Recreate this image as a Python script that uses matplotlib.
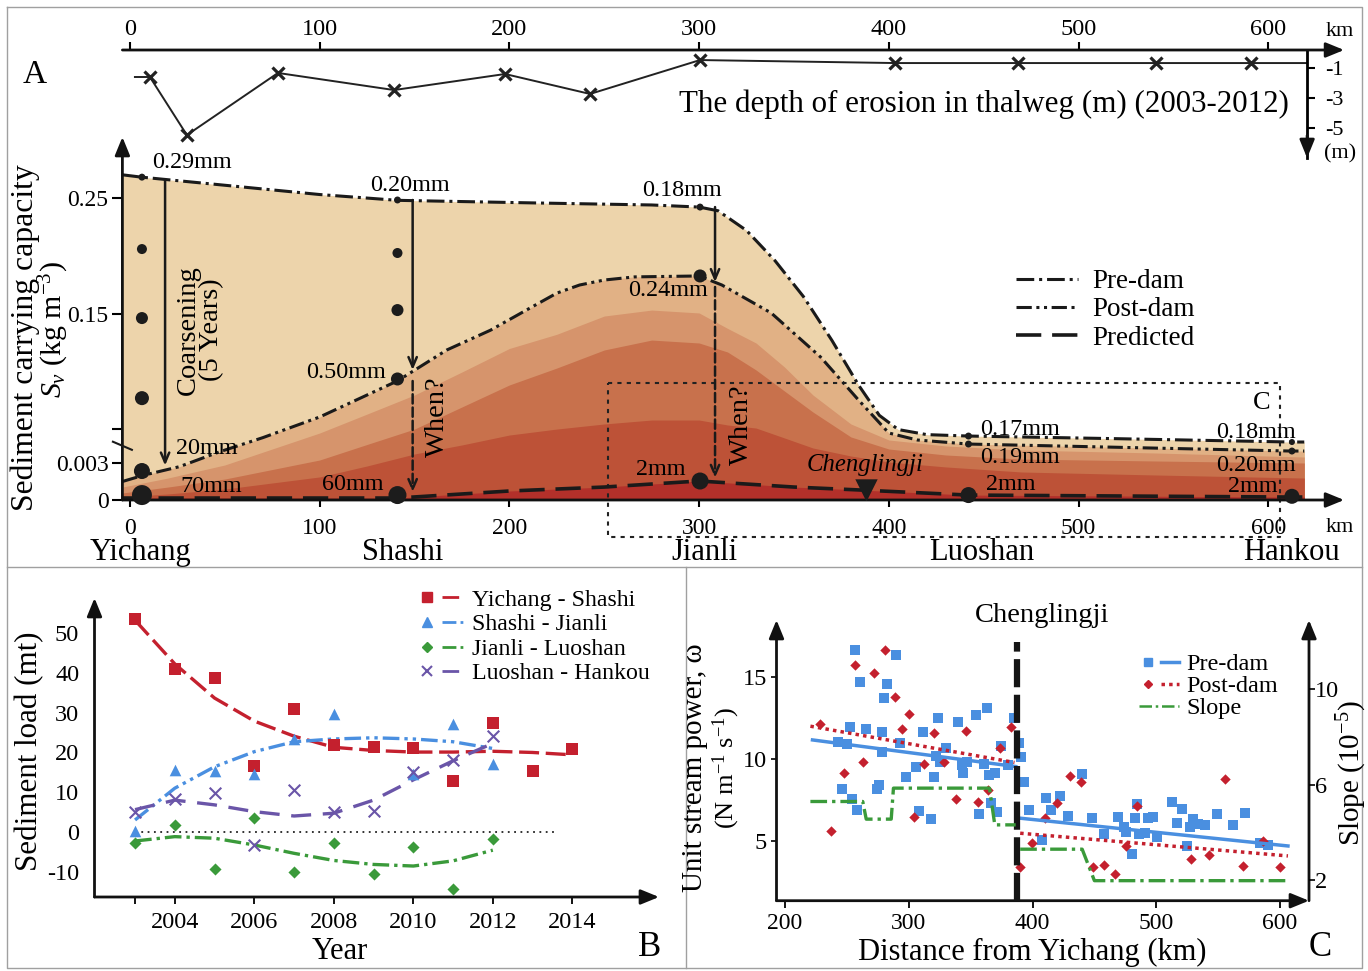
import numpy as np
import matplotlib
matplotlib.use('Agg')
import matplotlib.pyplot as plt
import matplotlib.transforms as mtransforms
from matplotlib.lines import Line2D
from matplotlib.legend_handler import HandlerTuple

plt.rcParams['font.family'] = ['Liberation Serif', 'DejaVu Serif']
plt.rcParams['mathtext.fontset'] = 'custom'
plt.rcParams['mathtext.rm'] = 'Liberation Serif'
plt.rcParams['mathtext.it'] = 'Liberation Serif:italic'
plt.rcParams['mathtext.bf'] = 'Liberation Serif:bold'
plt.rcParams['axes.unicode_minus'] = False

W, H = 1368, 971

# ---------------- data: panel A, thalweg erosion depth (m) ----------------
ero_km = [2.6, 10.5, 30.0, 78.0, 139.2, 197.7, 242.5, 300.5, 403.3, 468.1, 540.9, 590.9, 620.5]
ero_depth = [-1.6, -1.6, -5.47, -1.33, -2.47, -1.40, -2.73, -0.47, -0.67, -0.67, -0.67, -0.67, -0.67]
ero_axis_km = 620.5

# ---------------- data: panel A, sediment carrying capacity (kg m-3) ----------------
pre_km = [-4, 6, 50, 100, 141, 215, 275, 300, 310, 325, 340, 355, 370, 384, 395, 405, 420, 442, 520, 612, 619]
pre_sv = [0.270, 0.268, 0.261, 0.253, 0.248, 0.2457, 0.244, 0.2422, 0.239, 0.222, 0.196, 0.165, 0.124,
          0.080, 0.050, 0.036, 0.031, 0.0296, 0.027, 0.0237, 0.0237]

post_km = [-4, 7, 26, 47, 70, 100, 141, 167, 190, 214, 225, 237, 250, 266, 300, 312, 338, 364, 384, 400, 415,
           442, 612, 619]
post_sv = [0.0015, 0.0020, 0.0027, 0.0139, 0.028, 0.0484, 0.084, 0.1145, 0.134, 0.158, 0.168, 0.175, 0.1793,
           0.182, 0.1828, 0.175, 0.1509, 0.1076, 0.0652, 0.0326, 0.0257, 0.0217, 0.0148, 0.0148]

band_km = [-4, 20, 50, 100, 125, 150, 175, 200, 225, 250, 275, 300, 315, 330, 345, 360, 380, 400, 430, 470,
           540, 619]
band3_sv = [0.00105, 0.00178, 0.00284, 0.0326, 0.0513, 0.0701, 0.0928, 0.116, 0.130, 0.148, 0.1534, 0.1509,
            0.1358, 0.1214, 0.0977, 0.0701, 0.0415, 0.0257, 0.0198, 0.0158, 0.0129, 0.0089]
band4_sv = [0.00057, 0.00105, 0.0017, 0.00596, 0.0213, 0.0365, 0.0583, 0.080, 0.0967, 0.1145, 0.1243, 0.1214,
            0.1125, 0.0948, 0.074, 0.0533, 0.0287, 0.0168, 0.0109, 0.0069, 0.0050, 0.0030]
band5_sv = [0.00024, 0.00049, 0.00089, 0.00187, 0.00276, 0.0119, 0.0208, 0.0306, 0.0365, 0.0415, 0.0454,
            0.0454, 0.0405, 0.0375, 0.0277, 0.0178, 0.0099, 0.0040, 0.00268, 0.00227, 0.00203, 0.00178]

pred_km = [-4, 141, 200, 250, 300, 350, 385, 442, 612, 619]
pred_sv = [0.00016, 0.00016, 0.00073, 0.00105, 0.00154, 0.00105, 0.00081, 0.0004, 0.00024, 0.00024]

# grain-size sample points at the stations
dot_km = [6.3] * 6 + [141] * 5 + [300.5] * 3 + [442] * 3 + [612.5] * 3
dot_sv = [0.268, 0.206, 0.146, 0.067, 0.00235, 0.0004,
          0.2483, 0.2026, 0.1534, 0.0859, 0.0004,
          0.2422, 0.1828, 0.00154,
          0.0296, 0.0217, 0.0004,
          0.0237, 0.0148, 0.0003]
dot_size = [25, 52, 75, 102, 133, 207,
            25, 52, 75, 88, 168,
            25, 88, 150,
            25, 25, 133,
            19, 25, 117]
chenglingji_km, chenglingji_sv = 388, 0.00081

stations = ['Yichang', 'Shashi', 'Jianli', 'Luoshan', 'Hankou']
station_km = [5.8, 143.9, 302.6, 449, 612.5]

# ---------------- data: panel B, sediment load (mt) ----------------
years = list(range(2003, 2015))
ys_load = [53.5, 41.0, 38.7, 16.7, 30.9, 21.9, 21.3, 21.0, 12.9, 27.3, 15.3, 20.8]
ys_fit = [53.3, 42.3, 33.7, 27.9, 24.1, 21.3, 20.5, 20.1, 20.1, 20.3, 20.0, 19.4]
sj_years = [2003, 2004, 2005, 2006, 2007, 2008, 2010, 2011, 2012]
sj_load = [0.3, 15.6, 15.3, 14.6, 23.3, 29.6, 14.6, 27.2, 17.1]
fit_years = list(range(2003, 2013))
sj_fit = [3.0, 11.0, 16.4, 20.2, 22.7, 23.4, 23.7, 23.4, 22.7, 21.0]
jl_load = [-2.7, 1.7, -9.4, 3.6, -10.0, -2.9, -10.6, -3.7, -14.5, -1.9]
jl_fit = [-2.3, -1.2, -1.6, -3.3, -5.4, -7.2, -8.2, -8.6, -7.3, -4.6]
lh_load = [5.1, 8.2, 9.9, -3.3, 10.5, 4.9, 5.3, 15.2, 18.1, 24.2]
lh_fit = [5.6, 8.0, 6.8, 5.1, 4.0, 4.7, 8.0, 13.1, 17.9, 22.3]

# ---------------- data: panel C, unit stream power and slope ----------------
pre_x = [256.5, 260.4, 290.0, 282.3, 279.8, 252.6, 265.3, 278.0, 242.4, 249.8, 278.0, 292.9, 297.4, 305.5,
         311.2, 245.9, 254.0, 258.2, 274.5, 276.3, 308.0, 318.2, 320.0, 323.5, 321.8, 325.0, 330.3, 339.5,
         343.0, 344.1, 346.9, 354.3, 363.5, 361.0, 365.2, 369.4, 356.4, 366.3, 371.6, 374.8, 380.1, 385.4,
         388.9, 390.7, 393.5, 397.0, 407.6, 410.5, 414.7, 421.8, 428.8, 440.1, 448.2, 457.8, 468.7, 473.7,
         475.8, 480.0, 482.5, 484.3, 486.4, 490.6, 493.4, 497.7, 500.5, 512.9, 517.1, 520.6, 525.2, 527.0,
         529.4, 534.0, 539.3, 548.9, 561.6, 571.8, 583.5, 590.5]
pre_w = [16.67, 14.71, 16.36, 14.57, 13.71, 11.96, 11.81, 11.67, 11.06, 10.89, 10.45, 11.00, 8.87, 9.48,
         11.67, 8.18, 7.53, 6.87, 8.14, 8.38, 6.83, 6.31, 8.87, 12.48, 10.18, 9.83, 10.65, 12.26,
         9.63, 9.12, 9.78, 12.69, 13.10, 9.67, 9.02, 9.16, 6.63, 7.32, 6.73, 10.79, 9.63, 12.48,
         11.00, 10.14, 8.57, 6.87, 5.03, 7.59, 6.87, 7.73, 6.51, 9.08, 6.37, 5.39, 6.47, 5.86,
         5.55, 4.16, 6.37, 7.25, 5.41, 5.45, 6.37, 6.47, 5.24, 7.35, 6.06, 6.96, 4.67, 5.86,
         6.31, 6.02, 5.94, 6.63, 5.96, 6.67, 4.84, 4.74]
post_x = [228.3, 236.8, 247.4, 256.5, 262.8, 272.0, 280.9, 289.0, 294.7, 300.0, 304.2, 312.0, 320.1, 328.6,
          337.8, 346.5, 355.7, 364.2, 373.4, 382.2, 390.0, 399.5, 410.1, 420.0, 430.6, 439.4, 449.0, 457.8,
          466.6, 475.4, 484.3, 528.3, 542.8, 555.9, 570.0, 585.9, 600.0]
post_w = [12.14, 5.59, 9.16, 15.75, 9.78, 15.28, 16.67, 13.81, 11.81, 12.75, 6.42, 9.67, 11.57, 9.79,
          7.53, 11.73, 7.39, 8.10, 10.65, 11.98, 3.40, 4.88, 6.37, 7.29, 8.98, 8.57, 3.40, 3.51,
          2.96, 4.67, 7.12, 3.85, 4.12, 8.75, 3.45, 5.00, 3.40]
pre_trend_up = ([222.2, 386.4], [11.16, 9.53])
pre_trend_down = ([390.0, 606.4], [6.37, 4.67])
post_trend_up = ([220.5, 385.4], [12.0, 9.78])
post_trend_down = ([390.0, 606.4], [5.45, 4.06])
slope_up_x = [220.5, 262.8, 265.6, 285.8, 287.6, 365.2, 369.5, 386.4]
slope_up = [5.29, 5.29, 4.55, 4.55, 5.85, 5.85, 4.31, 4.31]
slope_down_x = [390.0, 440.1, 450.0, 606.4]
slope_down = [3.29, 3.29, 1.97, 1.97]
cl_line_km, cl_line_top = 387.5, 17.18

# ---------------- colours ----------------
band_colors = ['#EDD4AB', '#E1B185', '#D6946C', '#C8714C', '#BD5237', '#B3302A']
red, blue, green, purple = '#C4202E', '#4A8FE0', '#3A9A3A', '#6A55A8'


def box(x0, y0, x1, y1):
    return [x0 / W, 1 - y1 / H, (x1 - x0) / W, (y1 - y0) / H]


def at(px, py):
    return px / W, 1 - py / H


def arrow(ax, xy, xytext, coords='axes fraction', lw=2.0):
    ax.annotate('', xy=xy, xytext=xytext, xycoords=coords, textcoords=coords, annotation_clip=False,
                arrowprops=dict(arrowstyle='-|>,head_length=1.1,head_width=0.45', color='#111111', lw=lw,
                                shrinkA=0, shrinkB=0))


fig = plt.figure(figsize=(W / 100, H / 100), dpi=100)

# panel frames
for xs, ys in [([7, 1362, 1362, 7, 7], [7, 7, 968, 968, 7]), ([7, 1362], [567, 567]), ([686, 686], [567, 968])]:
    fig.add_artist(Line2D([x / W for x in xs], [1 - y / H for y in ys], color='#a0a0a0', lw=1.0,
                          transform=fig.transFigure))

# ================= panel A: erosion strip =================
axE = fig.add_axes(box(122.4, 50, 1344.1, 158))
axE.set_xlim(-4, 640)
axE.set_ylim(-7.0, 0.2)
axE.patch.set_alpha(0)
axE.plot(ero_km, ero_depth, color='#222222', lw=1.4, marker='x', ms=9, mew=2.3,
         markevery=list(range(1, len(ero_km) - 1)))
for s in ['left', 'bottom', 'top']:
    axE.spines[s].set_visible(False)
axE.spines['right'].set_position(('data', ero_axis_km))
axE.spines['right'].set_linewidth(2)
axE.xaxis.set_ticks_position('top')
axE.set_xticks(range(0, 700, 100))
axE.tick_params(axis='x', direction='out', length=6, width=1.5, labelsize=17.5, pad=1)
axE.yaxis.set_ticks_position('right')
axE.set_yticks([-1, -3, -5])
axE.set_yticklabels(['-1', '-3', '-5'])
axE.tick_params(axis='y', direction='out', length=6, width=1.5, labelsize=16, pad=7)
arrow(axE, (1, 1), (0, 1))
arrow(axE, (ero_axis_km, -7.0), (ero_axis_km, -5.5), coords='data')
fig.text(*at(1340, 31), 'km', fontsize=16, ha='center', va='center')
fig.text(*at(1340, 154), '(m)', fontsize=16, ha='center', va='center')
fig.text(*at(984, 104), 'The depth of erosion in thalweg (m) (2003-2012)', fontsize=22.3, ha='center',
         va='center')
fig.text(*at(35, 75), 'A', fontsize=24, ha='center', va='center')

# ================= panel A: sediment carrying capacity =================
sv_anchor = [-0.01, 0, 0.003, 0.15, 0.25, 0.5]
d_anchor = [-123.3, 0, 37, 186, 302, 592]


def fwd(v):
    return np.interp(v, sv_anchor, d_anchor)


def inv(v):
    return np.interp(v, d_anchor, sv_anchor)


axA = fig.add_axes(box(122.4, 137, 1344.1, 500))
axA.set_yscale('function', functions=(fwd, inv))
axA.set_xlim(-4, 640)
axA.set_ylim(0, 0.3026)
axA.patch.set_alpha(0)
for s in axA.spines.values():
    s.set_visible(False)

fills = [(pre_km, pre_sv), (post_km, post_sv), (band_km, band3_sv), (band_km, band4_sv),
         (band_km, band5_sv), (pred_km, pred_sv)]
for (xk, yv), c in zip(fills, band_colors):
    axA.fill_between(xk, 0, yv, color=c, lw=0, zorder=1)

# dotted box marking panel C
blend = mtransforms.blended_transform_factory(axA.transData, axA.transAxes)
axA.plot([252, 606.2, 606.2, 252, 252], [0.3223, 0.3223, -0.1019, -0.1019, 0.3223], transform=blend,
         color='#222222', lw=1.5, ls=(0, (2, 2.5)), clip_on=False, zorder=2)

ls_pre = (0, (5.8, 1.6, 1.0, 1.6))
ls_post = (0, (5.0, 1.5, 1.0, 1.5, 1.0, 1.5))
ls_pred = (0, (7, 3))
axA.plot(pre_km, pre_sv, color='#1a1a1a', lw=2.2, ls=ls_pre, zorder=3)
axA.plot(post_km, post_sv, color='#1a1a1a', lw=2.2, ls=ls_post, zorder=3)
axA.plot(pred_km, pred_sv, color='#1a1a1a', lw=2.6, ls=ls_pred, zorder=3)
axA.scatter(dot_km, dot_sv, s=dot_size, color='#1c1c1c', zorder=4, clip_on=False, lw=0)
axA.scatter([chenglingji_km], [chenglingji_sv], marker='v', s=260, color='#1c1c1c', zorder=4, lw=0)

# coarsening arrows
for x0, y0, y1, st in [(18.5, 0.2655, 0.0028, '-'), (149, 0.2483, 0.0948, '-'), (149, 0.0839, 0.00065, '--'),
                       (308.4, 0.2422, 0.1776, '-'), (308.4, 0.1733, 0.0018, '--')]:
    axA.annotate('', xy=(x0, y1), xytext=(x0, y0), zorder=4,
                 arrowprops=dict(arrowstyle='->,head_length=0.7,head_width=0.3', color='#1a1a1a', lw=1.8,
                                 ls=st, shrinkA=0, shrinkB=0))

arrow(axA, (1, 0), (0, 0))
arrow(axA, (0, 1), (0, 0))
axA.set_xticks(range(0, 700, 100))
axA.tick_params(axis='x', direction='out', length=5, width=1.5, labelsize=17, pad=8)
axA.set_yticks([0, 0.003, 0.15, 0.25])
axA.set_yticklabels(['0', '0.003', '0.15', '0.25'])
axA.set_yticks([0.0365], minor=True)
axA.yaxis.set_minor_formatter(matplotlib.ticker.NullFormatter())
axA.tick_params(axis='y', which='both', direction='out', length=7, width=1.5, labelsize=17, pad=3)
axA.plot([-9, 1], [0.024, 0.016], color='#1a1a1a', lw=1.5, clip_on=False, zorder=5)

for name, xk in zip(stations, station_km):
    axA.text(xk, -0.144, name, transform=blend, fontsize=22, ha='center', va='center')
fig.text(*at(1340, 528), 'km', fontsize=16, ha='center', va='center')

fig.text(*at(25, 338), 'Sediment carrying capacity', fontsize=22.8, rotation=90, ha='center', va='center')
fig.text(*at(54, 330), r'$S_v$ (kg m$^{-3}$)', fontsize=21.5, rotation=90, ha='center', va='center')

grain_labels = [('0.29mm', 152, 163, 'left'), ('0.20mm', 370, 185, 'left'), ('0.18mm', 642, 190, 'left'),
                ('0.24mm', 628, 290, 'left'), ('0.50mm', 386, 372, 'right'), ('20mm', 176, 448, 'left'),
                ('70mm', 180, 487, 'left'), ('60mm', 322, 484, 'left'), ('2mm', 636, 469, 'left'),
                ('0.17mm', 980, 429, 'left'), ('0.19mm', 980, 457, 'left'), ('2mm', 986, 484, 'left'),
                ('0.18mm', 1216, 433, 'left'), ('0.20mm', 1216, 465, 'left'), ('2mm', 1228, 487, 'left')]
for txt, px, py, ha in grain_labels:
    fig.text(*at(px, py), txt, fontsize=17.4, ha=ha, va='center', zorder=6)
fig.text(*at(200, 330), 'Coarsening\n(5 Years)', fontsize=20.5, rotation=90, ha='center', va='center',
         multialignment='center', linespacing=0.95)
fig.text(*at(437, 417), 'When?', fontsize=20.5, rotation=90, ha='center', va='center')
fig.text(*at(741, 425), 'When?', fontsize=20.5, rotation=90, ha='center', va='center')
fig.text(*at(865, 465), 'Chenglingji', fontsize=17.8, style='italic', ha='center', va='center')
fig.text(*at(1262, 403), 'C', fontsize=19, ha='center', va='center')

hA = [Line2D([], [], color='#1a1a1a', lw=2.2, ls=ls_pre), Line2D([], [], color='#1a1a1a', lw=2.2, ls=ls_post),
      Line2D([], [], color='#1a1a1a', lw=2.6, ls=ls_pred)]
fig.legend(hA, ['Pre-dam', 'Post-dam', 'Predicted'], loc='upper left', bbox_to_anchor=at(1016, 269),
           frameon=False, fontsize=19.5, handlelength=2.3, handletextpad=0.5, labelspacing=0.12,
           borderaxespad=0, borderpad=0)

# ================= panel B =================
axB = fig.add_axes(box(94.5, 598, 659, 897))
axB.set_xlim(2001.98, 2016.18)
axB.set_ylim(-16.4, 58.9)
for s in axB.spines.values():
    s.set_visible(False)
axB.hlines(0, 2003, 2013.6, color='#222222', lw=1.3, ls=(0, (1, 2.5)))
axB.plot(years, ys_fit, color=red, lw=2.4, ls=(0, (6, 2)))
axB.plot(fit_years, sj_fit, color=blue, lw=2.4, ls=(0, (5, 1.5, 1, 1.5, 1, 1.5)))
axB.plot(fit_years, jl_fit, color=green, lw=2.4, ls=(0, (5, 1.5, 1, 1.5)))
axB.plot(fit_years, lh_fit, color=purple, lw=2.4, ls=(0, (6, 3.5)))
axB.scatter(years, ys_load, marker='s', s=70, color=red, lw=0, zorder=3)
axB.scatter(sj_years, sj_load, marker='^', s=70, color=blue, lw=0, zorder=3)
axB.scatter(fit_years, jl_load, marker='D', s=38, color=green, lw=0, zorder=3)
axB.scatter(fit_years, lh_load, marker='x', s=70, color=purple, lw=1.5, zorder=3)
arrow(axB, (1, 0), (0, 0))
arrow(axB, (0, 1), (0, 0))
axB.set_xticks([2003, 2004, 2006, 2008, 2010, 2012, 2014])
axB.set_xticklabels(['', '2004', '2006', '2008', '2010', '2012', '2014'])
axB.tick_params(axis='x', direction='out', length=5, width=1.3, labelsize=17.5, pad=6)
axB.set_yticks(range(-10, 60, 10))
axB.tick_params(axis='y', direction='out', length=0, labelsize=17.5, pad=11)
fig.text(*at(30, 751), 'Sediment load (mt)', fontsize=22.3, rotation=90, ha='center', va='center')
fig.text(*at(340, 951), 'Year', fontsize=22, ha='center', va='center')
fig.text(*at(650, 947), 'B', fontsize=25, ha='center', va='center')

hB = [(Line2D([], [], ls='none', marker='s', color=red, ms=7), Line2D([], [], color=red, lw=2, ls=(0, (6, 2)))),
      (Line2D([], [], ls='none', marker='^', color=blue, ms=7),
       Line2D([], [], color=blue, lw=2, ls=(0, (5, 1.5, 1, 1.5, 1, 1.5)))),
      (Line2D([], [], ls='none', marker='D', color=green, ms=5),
       Line2D([], [], color=green, lw=2, ls=(0, (5, 1.5, 1, 1.5)))),
      (Line2D([], [], ls='none', marker='x', color=purple, ms=7, mew=1.5),
       Line2D([], [], color=purple, lw=2, ls=(0, (6, 3.5))))]
fig.legend(hB, ['Yichang - Shashi', 'Shashi - Jianli', 'Jianli - Luoshan', 'Luoshan - Hankou'],
           handler_map={tuple: HandlerTuple(ndivide=None, pad=0.15)}, loc='upper left',
           bbox_to_anchor=at(416, 589), frameon=False, fontsize=17.2, handlelength=2.0, handletextpad=0.35,
           labelspacing=0.12, borderaxespad=0, borderpad=0)

# ================= panel C =================
axC = fig.add_axes(box(776.5, 620, 1309, 900.7))
axC.set_xlim(193.1, 623.4)
axC.set_ylim(1.32, 18.5)
axC2 = axC.twinx()
axC2.set_ylim(1.13, 12.9)
for a in (axC, axC2):
    for s in a.spines.values():
        s.set_visible(False)
axC2.plot(slope_up_x, slope_up, color=green, lw=2.4, ls=(0, (5, 1.5, 1, 1.5)))
axC2.plot(slope_down_x, slope_down, color=green, lw=2.4, ls=(0, (5, 1.5, 1, 1.5)))
axC.scatter(pre_x, pre_w, marker='s', s=55, color=blue, lw=0, zorder=3)
axC.scatter(post_x, post_w, marker='D', s=28, color=red, lw=0, zorder=3)
for tx, ty in (pre_trend_up, pre_trend_down):
    axC.plot(tx, ty, color=blue, lw=2.5, zorder=4)
for tx, ty in (post_trend_up, post_trend_down):
    axC.plot(tx, ty, color=red, lw=2.5, ls=(0, (1, 1.2)), zorder=4)
axC.plot([cl_line_km, cl_line_km], [1.32, cl_line_top], color='#151515', lw=4.5, ls=(0, (4.5, 1.2)), zorder=5)
arrow(axC, (1, 0), (0, 0))
arrow(axC, (0, 1), (0, 0))
arrow(axC, (1, 1), (1, 0))
axC.set_xticks(range(200, 700, 100))
axC.tick_params(axis='x', direction='out', length=5, width=1.3, labelsize=17, pad=4)
axC.set_yticks([5, 10, 15])
axC.tick_params(axis='y', direction='out', length=4, width=1.2, labelsize=17.5, pad=3)
axC2.set_yticks([2, 6, 10])
axC2.tick_params(axis='y', direction='out', length=4, width=1.2, labelsize=17.5, pad=0.5)
fig.text(*at(695, 768), 'Unit stream power, ω', fontsize=21, rotation=90, ha='center', va='center')
fig.text(*at(726, 768), r'(N m$^{-1}$ s$^{-1}$)', fontsize=19, rotation=90, ha='center', va='center')
fig.text(*at(1042, 615), 'Chenglingji', fontsize=20.5, ha='center', va='center')
fig.text(*at(1352, 773), r'Slope (10$^{-5}$)', fontsize=21, rotation=90, ha='center', va='center')
fig.text(*at(1032, 952), 'Distance from Yichang (km)', fontsize=22, ha='center', va='center')
fig.text(*at(1320, 947), 'C', fontsize=25, ha='center', va='center')

hC = [(Line2D([], [], ls='none', marker='s', color=blue, ms=6), Line2D([], [], color=blue, lw=2.5)),
      (Line2D([], [], ls='none', marker='D', color=red, ms=4.5), Line2D([], [], color=red, lw=2.5, ls=(0, (1, 1.2)))),
      Line2D([], [], color=green, lw=1.8, ls=(0, (5, 1.5, 1, 1.5)))]
fig.legend(hC, ['Pre-dam', 'Post-dam', 'Slope'], handler_map={tuple: HandlerTuple(ndivide=None, pad=0.15)},
           loc='upper left', bbox_to_anchor=at(1139, 653), frameon=False, fontsize=17.5, handlelength=1.65,
           handletextpad=0.3, labelspacing=0.0, borderaxespad=0, borderpad=0)

fig.savefig('out.png', dpi=100)
